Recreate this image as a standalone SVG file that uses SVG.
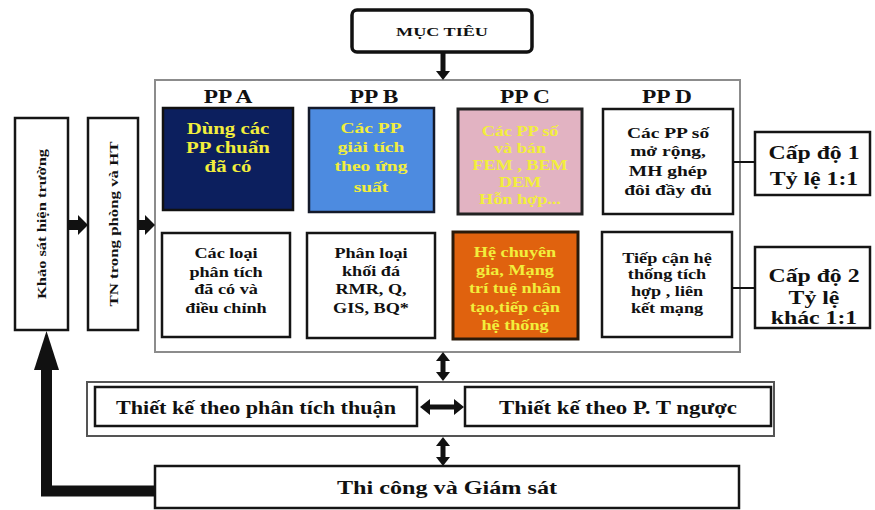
<svg xmlns="http://www.w3.org/2000/svg" width="875" height="510" viewBox="0 0 875 510">
<style>
text{font-family:"Liberation Serif","Times New Roman",serif;font-weight:bold;text-anchor:middle;fill:#111}
.box{fill:#fff;stroke:#151515;stroke-width:2.5}
.y{fill:#f2ee3c}
.f16{font-size:16px}
.f15{font-size:15px}
.f14{font-size:14px}
.lbl{font-size:18px}
.arr{fill:#111;stroke:none}
</style>
<rect width="875" height="510" fill="#fff"/>

<g id="muctieu">
<rect x="352" y="10" width="180" height="42" rx="5" fill="#fff" stroke="#111" stroke-width="3.5"/>
<text x="442" y="36" font-size="13" textLength="92" lengthAdjust="spacingAndGlyphs">MỤC TIÊU</text>
</g>

<g id="container">
<rect x="155" y="80" width="585" height="272" fill="#fff" stroke="#8c8c8c" stroke-width="2"/>
<g transform="translate(228 0) scale(1.3 1)"><text class="lbl" x="0" y="103">PP A</text></g>
<g transform="translate(374 0) scale(1.3 1)"><text class="lbl" x="0" y="103">PP B</text></g>
<g transform="translate(525 0) scale(1.3 1)"><text class="lbl" x="0" y="103">PP C</text></g>
<g transform="translate(667 0) scale(1.3 1)"><text class="lbl" x="0" y="103">PP D</text></g>
</g>

<g id="ppA">
<rect x="163" y="108" width="130" height="102" fill="#0c1f5e" stroke="#111" stroke-width="2.5"/>
<g transform="translate(228 0) scale(1.3 1)" class="f16">
<text class="y" x="0" y="134">Dùng các</text>
<text class="y" x="0" y="153">PP chuẩn</text>
<text class="y" x="0" y="172">đã có</text>
</g>
</g>

<g id="ppB">
<rect x="309" y="108" width="125" height="104" fill="#4d8be0" stroke="#141a2a" stroke-width="2.5"/>
<g transform="translate(371 0) scale(1.3 1)" class="f15">
<text class="y" x="0" y="133">Các PP</text>
<text class="y" x="0" y="152">giải tích</text>
<text class="y" x="0" y="171">theo ứng</text>
<text class="y" x="0" y="192">suất</text>
</g>
</g>

<g id="ppC">
<rect x="458" y="109" width="124" height="105" fill="#e2b3c2" stroke="#222" stroke-width="3"/>
<g transform="translate(520 0) scale(1.3 1)" class="f14">
<text class="y" x="0" y="136">Các PP số</text>
<text class="y" x="0" y="153">và bán</text>
<text class="y" x="0" y="170">FEM , BEM</text>
<text class="y" x="0" y="187">DEM</text>
<text class="y" x="0" y="204">Hỗn hợp...</text>
</g>
</g>

<g id="ppD">
<rect x="603" y="109" width="130" height="105" class="box" stroke-width="3"/>
<g transform="translate(668 0) scale(1.3 1)" class="f15">
<text x="0" y="138">Các PP số</text>
<text x="0" y="156">mở rộng,</text>
<text x="0" y="176">MH ghép</text>
<text x="0" y="195">đôi đầy đủ</text>
</g>
</g>

<g id="ppA2">
<rect x="162" y="233" width="128" height="104" class="box"/>
<g transform="translate(226 0) scale(1.3 1)" class="f14">
<text x="0" y="258">Các loại</text>
<text x="0" y="277">phân tích</text>
<text x="0" y="294">đã có và</text>
<text x="0" y="313">điều chỉnh</text>
</g>
</g>

<g id="ppB2">
<rect x="307" y="233" width="128" height="105" class="box"/>
<g transform="translate(371 0) scale(1.3 1)" class="f14">
<text x="0" y="258">Phân loại</text>
<text x="0" y="276">khối đá</text>
<text x="0" y="294">RMR, Q,</text>
<text x="0" y="313">GIS, BQ*</text>
</g>
</g>

<g id="ppC2">
<rect x="453" y="232" width="125" height="107" fill="#e0620e" stroke="#2a1a0a" stroke-width="3"/>
<g transform="translate(515 0) scale(1.3 1)" class="f14">
<text class="y" x="0" y="257">Hệ chuyên</text>
<text class="y" x="0" y="275">gia, Mạng</text>
<text class="y" x="0" y="293">trí tuệ nhân</text>
<text class="y" x="0" y="312">tạo,tiếp cận</text>
<text class="y" x="0" y="330">hệ thống</text>
</g>
</g>

<g id="ppD2">
<rect x="602" y="232" width="130" height="105" class="box" stroke-width="3"/>
<g transform="translate(667 0) scale(1.3 1)" class="f14">
<text x="0" y="263">Tiếp cận hệ</text>
<text x="0" y="279">thống tích</text>
<text x="0" y="296">hợp , liên</text>
<text x="0" y="313">kết mạng</text>
</g>
</g>

<g id="capdo1">
<rect x="755" y="132" width="115" height="63" class="box"/>
<g transform="translate(814 0) scale(1.25 1)" style="font-size:19px">
<text x="0" y="159">Cấp độ 1</text>
<text x="0" y="185">Tỷ lệ 1:1</text>
</g>
</g>

<g id="capdo2">
<rect x="755" y="247" width="115" height="81" class="box"/>
<g transform="translate(814 0) scale(1.25 1)" style="font-size:19px">
<text x="0" y="282">Cấp độ 2</text>
<text x="0" y="304">Tỷ lệ</text>
<text x="0" y="324">khác 1:1</text>
</g>
</g>

<g id="khaosat">
<rect x="15" y="118" width="53" height="212" class="box"/>
<text transform="translate(46 224) rotate(-90)" x="0" y="0" font-size="13" textLength="150" lengthAdjust="spacingAndGlyphs">Khảo sát hiện trường</text>
</g>

<g id="tn">
<rect x="88" y="118" width="50" height="212" class="box"/>
<text transform="translate(118 224) rotate(-90)" x="0" y="0" font-size="13" textLength="165" lengthAdjust="spacingAndGlyphs">TN trong phòng và HT</text>
</g>

<g id="thietke">
<rect x="87" y="382" width="687" height="54" fill="#fff" stroke="#555" stroke-width="2"/>
<rect x="95" y="387" width="322" height="39" class="box" stroke-width="2"/>
<rect x="465" y="387" width="306" height="39" class="box" stroke-width="2"/>
<text x="256" y="414" font-size="18" textLength="280" lengthAdjust="spacingAndGlyphs">Thiết kế theo phân tích thuận</text>
<text x="618" y="414" font-size="18" textLength="238" lengthAdjust="spacingAndGlyphs">Thiết kế theo P. T ngược</text>
</g>

<g id="thicong">
<rect x="155" y="466" width="584" height="42" class="box"/>
<text x="447" y="494" font-size="18" textLength="220" lengthAdjust="spacingAndGlyphs">Thi công và Giám sát</text>
</g>

<g id="connectors">
<!-- Muc tieu down -->
<rect class="arr" x="440.5" y="52" width="5" height="20"/>
<polygon class="arr" points="436,71 450,71 443,80"/>
<!-- D to cap do -->
<line x1="733" y1="162" x2="755" y2="162" stroke="#111" stroke-width="2"/>
<line x1="732" y1="288" x2="755" y2="288" stroke="#111" stroke-width="2"/>
<!-- khao sat -> TN -->
<rect class="arr" x="68" y="220" width="12" height="10"/>
<polygon class="arr" points="78,215 88,225 78,235"/>
<!-- TN -> container -->
<rect class="arr" x="138" y="220" width="8" height="10"/>
<polygon class="arr" points="145,215 155,225 145,235"/>
<!-- container <-> thiet ke -->
<rect class="arr" x="440.5" y="359" width="5" height="15"/>
<polygon class="arr" points="436,361 450,361 443,352"/>
<polygon class="arr" points="436,372 450,372 443,381"/>
<!-- left <-> right -->
<rect class="arr" x="428" y="404.5" width="28" height="5"/>
<polygon class="arr" points="430,399 430,415 420,407"/>
<polygon class="arr" points="454,399 454,415 464,407"/>
<!-- thiet ke <-> thi cong -->
<rect class="arr" x="440.5" y="444" width="5" height="15"/>
<polygon class="arr" points="436,446 450,446 443,437"/>
<polygon class="arr" points="436,457 450,457 443,466"/>
<!-- thi cong -> khao sat -->
<path d="M155 491 H46.5 V368" fill="none" stroke="#111" stroke-width="11"/>
<polygon class="arr" points="34,370 59,370 46.5,331"/>
</g>
</svg>
